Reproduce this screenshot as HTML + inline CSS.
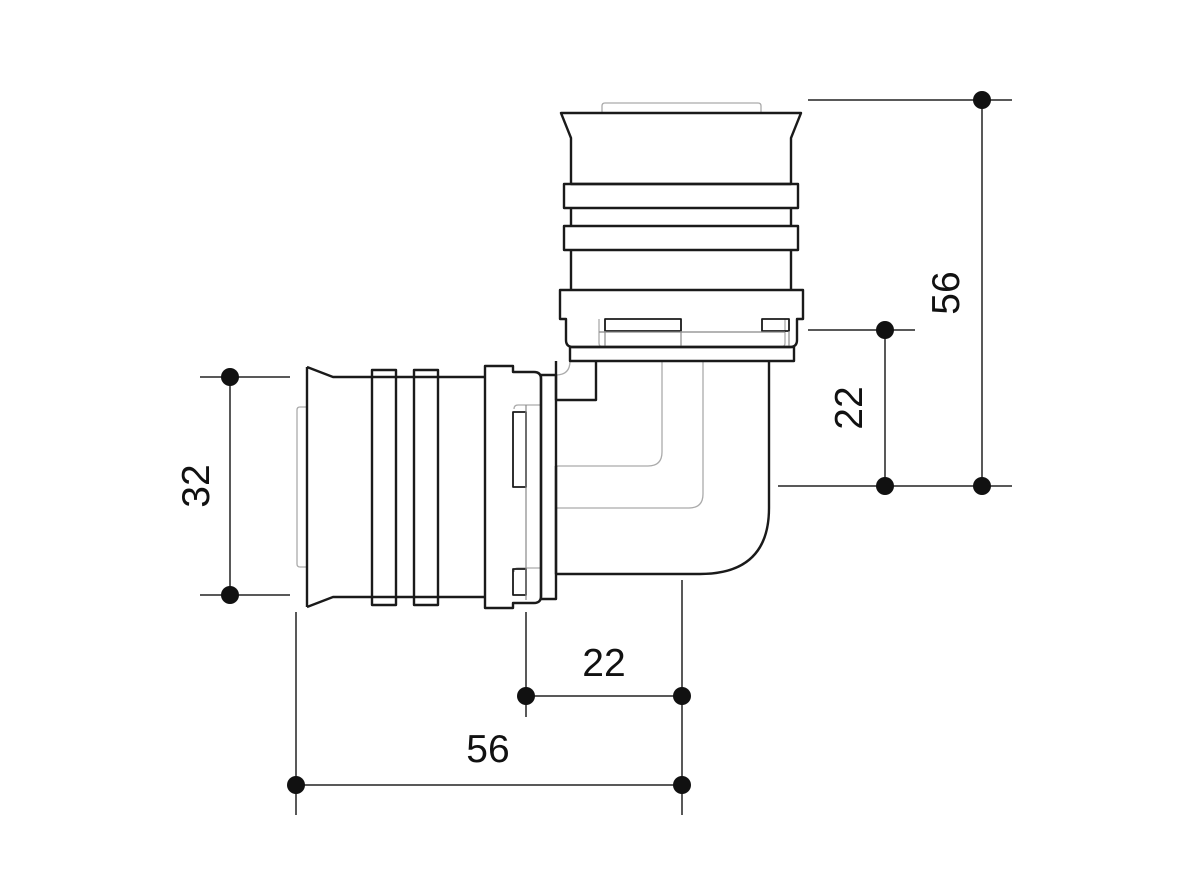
<!DOCTYPE html>
<html><head><style>html,body{margin:0;padding:0;background:#fff}svg{display:block}</style></head>
<body>
<svg width="1181" height="886" viewBox="0 0 1181 886" xmlns="http://www.w3.org/2000/svg">
<g fill="none" stroke="#1a1a1a" stroke-width="2.4" stroke-linejoin="round">
<g stroke="#aaa" stroke-width="1.3">
<path d="M602,113 V106 Q602,103 605,103 H758 Q761,103 761,106 V113"/>
<path d="M307,407 H300 Q297,407 297,410 V564 Q297,567 300,567 H307"/>
<path d="M599,319 V343 Q599,347 603,347"/><path d="M785,319 V343 Q785,347 781,347"/>
<path d="M541,405 H518 Q514,405 514,409"/><path d="M541,568 H518 Q514,568 514,572"/>
<path d="M662,361 V452 Q662,466 648,466 H556"/>
<path d="M703,361 V494 Q703,508 689,508 H556"/>
<path d="M556,400 V466"/>
<path d="M570,361 Q570,375 556,375"/>
</g>
<path d="M561,113 H801 L791,138 V184 H571 V138 Z"/>
<rect x="564" y="184" width="234" height="24"/>
<path d="M571,208 V226 M791,208 V226"/>
<rect x="564" y="226" width="234" height="24"/>
<path d="M571,250 V290 M791,250 V290"/>
<path d="M560,290 H803 V319 H797 V340 Q797,347 790,347 H573 Q566,347 566,340 V319 H560 Z"/>
<rect x="605" y="319" width="76" height="12" stroke-width="1.8"/>
<rect x="762" y="319" width="27" height="12" stroke-width="1.8"/>
<path d="M599,332 H785" stroke="#888" stroke-width="1.2"/>
<path d="M605,331 V347 M681,331 V347 M789,331 V347" stroke="#888" stroke-width="1.2"/>
<rect x="570" y="347" width="224" height="14"/>
<path d="M769,361 V508 Q769,574 700,574 H556 V466"/>
<path d="M556,361 V400 H596 V361"/>
<path d="M307,367 L333,377 H485 M307,607 L333,597 H485 M307,367 V607"/>
<rect x="372" y="370" width="24" height="235"/>
<rect x="414" y="370" width="24" height="235"/>
<path d="M485,366 H513 V372 H534 Q541,372 541,379 V596 Q541,603 534,603 H513 V608 H485 Z"/>
<rect x="513" y="412" width="13" height="75" stroke-width="1.8"/>
<rect x="513" y="569" width="13" height="26" stroke-width="1.8"/>
<path d="M526,405 V600" stroke="#888" stroke-width="1.2"/>
<rect x="541" y="375" width="15" height="224"/>
</g>
<g stroke="#222" stroke-width="1.5">
<path d="M808,100 H1012 M982,100 V486 M778,486 H1012 M808,330 H915 M885,330 V486"/>
<path d="M200,377 H290 M200,595 H290 M230,377 V595"/>
<path d="M296,612 V815 M526,612 V717 M682,580 V815 M526,696 H682 M296,785 H682"/>
</g>
<g fill="#111">
<circle cx="982" cy="100" r="9"/><circle cx="982" cy="486" r="9"/><circle cx="885" cy="486" r="9"/><circle cx="885" cy="330" r="9"/>
<circle cx="230" cy="377" r="9"/><circle cx="230" cy="595" r="9"/>
<circle cx="526" cy="696" r="9"/><circle cx="682" cy="696" r="9"/><circle cx="296" cy="785" r="9"/><circle cx="682" cy="785" r="9"/>
</g>
<g font-family="Liberation Sans, sans-serif" font-size="39" fill="#111" text-anchor="middle">
<text x="604" y="676">22</text>
<text x="488" y="762">56</text>
<text transform="translate(959,293) rotate(-90)">56</text>
<text transform="translate(862,408) rotate(-90)">22</text>
<text transform="translate(209,486) rotate(-90)">32</text>
</g>
</svg>
</body></html>
